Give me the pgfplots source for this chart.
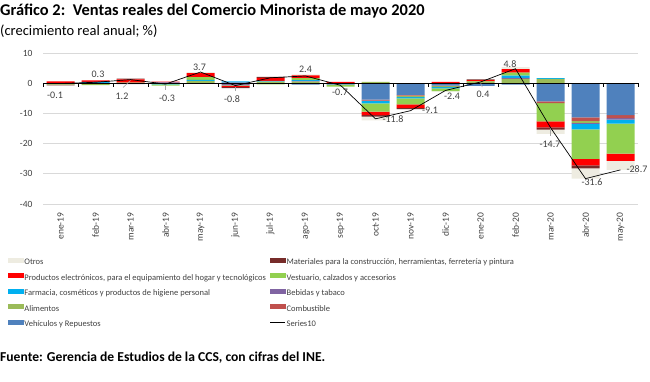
\documentclass[border=0pt]{standalone}
\usepackage{fontspec}
\setmainfont{Carlito}
\usepackage{pgfplots}
\usepackage{pgfplotstable}
\pgfplotsset{compat=1.18}
\definecolor{cV}{HTML}{4F81BD}
\definecolor{cC}{HTML}{C0504D}
\definecolor{cA}{HTML}{9BBB59}
\definecolor{cB}{HTML}{8064A2}
\definecolor{cF}{HTML}{00B0F0}
\definecolor{cVe}{HTML}{92D050}
\definecolor{cE}{HTML}{FF0000}
\definecolor{cM}{HTML}{772C2A}
\definecolor{cO}{HTML}{EEECE1}
\definecolor{txt}{HTML}{404040}
\definecolor{gridc}{HTML}{D9D9D9}
\definecolor{leadc}{HTML}{A6A6A6}

\pgfplotstableread{
x V C A B F Ve E M O
0 0 0 -0.5 0 0 0 0.6 -0.2 0
1 0.1 -0.3 0 0 0.3 -0.3 0.5 0 0
2 0 0 0.2 -0.3 0 0 1.1 0.2 0
3 -0.2 0 0 0.3 -0.2 -0.4 0.2 0 0
4 0 0 0.8 0 0.3 0.9 1.3 0 0.4
5 0.3 -0.3 0 -0.4 0.3 -0.2 -0.3 -0.4 0
6 0 0 0.5 0 0.3 -0.4 1.0 0.3 0
7 -0.5 0 0.5 0.3 0.2 0.7 0.9 0 0.3
8 -0.5 0 0 0 0 -0.6 0.4 0 0
9 -5.4 -0.35 0.4 -0.1 -0.8 -2.8 -1.1 -0.5 -1.3
10 -3.9 -0.2 -0.5 0 -0.4 -2.0 -1.2 -0.4 -0.1
11 -0.8 -0.2 -0.3 0 -0.4 -0.9 0.4 0 -0.2
12 -0.9 0 0.4 0 0 0.2 0.4 0.3 0
13 -0.5 0 1.4 0.4 0.7 1.0 1.2 0 0.6
14 -6.0 -0.6 1.4 0 0.3 -6.0 -2.0 -0.8 -1.4
15 -11.3 -1.2 -0.6 -0.4 -1.8 -9.8 -2.1 -1.0 -3.4
16 -10.6 -1.0 0 -0.5 -1.3 -9.9 -2.4 0 -3.0
}\contrib

\pgfplotstableread{
x y
0 -0.1
1 0.3
2 1.2
3 -0.3
4 3.7
5 -0.8
6 1.8
7 2.4
8 -0.7
9 -11.8
10 -9.1
11 -2.4
12 0.4
13 4.8
14 -14.7
15 -31.6
16 -28.7
}\total

\pgfplotstableread{
x y lab dx dy
0 -0.1 -0.1 -5.5 -11.4
1 0.3 0.3 2.5 8.4
2 1.2 1.2 -8.5 -16.3
3 -0.3 -0.3 1.5 -13.8
4 3.7 3.7 -1 5.1
5 -0.8 -0.8 -3.5 -13.3
7 2.4 2.4 0 7
8 -0.7 -0.7 -0.5 -7.3
9 -11.8 -11.8 17.5 0
10 -9.1 -9.1 19.5 0
11 -2.4 -2.4 6.5 -5.5
12 0.4 0.4 2.5 -11.9
13 4.8 4.8 -5.5 4.8
14 -14.7 -14.7 -0.5 -16.3
15 -31.6 -31.6 6.5 -3.2
16 -28.7 -28.7 16.5 1
}\labels

\pgfplotsset{
  base/.style={at={(43pt,178pt)}, anchor=south west, scale only axis,
    width=595pt, height=151pt, xmin=-0.5, xmax=16.5, ymin=-40, ymax=10,
    enlargelimits=false},
  bars/.style={ybar stacked, bar width=28pt},
  legfont/.style={font=\fontsize{8.5}{10}\selectfont, text=txt},
  leg/.style={legend cell align=left,
    legend style={draw=none, fill=none, inner sep=0pt, outer sep=0pt,
      legfont, row sep=5.5pt,
      nodes={inner sep=1pt, text height=6pt, text depth=2pt},
      anchor=north west}},
}
\newcommand{\sw}[1]{\addlegendimage{legend image code/.code={\fill[#1] (0pt,0.7pt) rectangle (15pt,4.7pt);}}}

\begin{document}
\begin{tikzpicture}[x=1pt,y=1pt]
\useasboundingbox (0,0) rectangle (650,382);
\node[anchor=base west, inner sep=0pt, font=\fontsize{16.4}{18}\selectfont\bfseries] at (0,366.7) {Gráfico 2:\ \ Ventas reales del Comercio Minorista de mayo 2020};
\node[anchor=base west, inner sep=0pt, font=\fontsize{14.5}{18}\selectfont] at (0,346.3) {(crecimiento real anual; \%)};
\node[anchor=base west, inner sep=0pt, font=\fontsize{13.6}{16}\selectfont\bfseries] at (0,20.3) {Fuente: Gerencia de Estudios de la CCS, con cifras del INE.};

% positive parts
\begin{axis}[base, bars, leg,
  legend style={at={(axis description cs:-0.05882,-0.3556)}},
  ytick={-40,-30,...,10}, xtick={0,...,16},
  xticklabels={ene-19,feb-19,mar-19,abr-19,may-19,jun-19,jul-19,ago-19,sep-19,oct-19,nov-19,dic-19,ene-20,feb-20,mar-20,abr-20,may-20},
  ymajorgrids, major grid style={color=gridc, line width=0.8pt},
  axis line style={draw=none}, major tick length=0pt,
  tick label style={font=\fontsize{9.5}{11}\selectfont, text=txt},
  /pgf/number format/assume math mode=true,
  xticklabel style={rotate=90, anchor=east}, xticklabel shift=5pt,
  yticklabel shift=7pt]
\addplot[fill=cV, draw=none, forget plot] table[x=x, y expr={max(\thisrow{V},0)}] {\contrib};
\addplot[fill=cC, draw=none, forget plot] table[x=x, y expr={max(\thisrow{C},0)}] {\contrib};
\addplot[fill=cA, draw=none, forget plot] table[x=x, y expr={max(\thisrow{A},0)}] {\contrib};
\addplot[fill=cB, draw=none, forget plot] table[x=x, y expr={max(\thisrow{B},0)}] {\contrib};
\addplot[fill=cF, draw=none, forget plot] table[x=x, y expr={max(\thisrow{F},0)}] {\contrib};
\addplot[fill=cVe, draw=none, forget plot] table[x=x, y expr={max(\thisrow{Ve},0)}] {\contrib};
\addplot[fill=cE, draw=none, forget plot] table[x=x, y expr={max(\thisrow{E},0)}] {\contrib};
\addplot[fill=cM, draw=none, forget plot] table[x=x, y expr={max(\thisrow{M},0)}] {\contrib};
\addplot[fill=cO, draw=none, forget plot] table[x=x, y expr={max(\thisrow{O},0)}] {\contrib};
\sw{cO}\addlegendentry{Otros}
\sw{cE}\addlegendentry{Productos electrónicos, para el equipamiento del hogar y tecnológicos}
\sw{cF}\addlegendentry{Farmacia, cosméticos y productos de higiene personal}
\sw{cA}\addlegendentry{Alimentos}
\sw{cV}\addlegendentry{Vehículos y Repuestos}
\end{axis}

% negative parts
\begin{axis}[base, bars, hide axis, leg,
  legend style={at={(axis description cs:0.38151,-0.3556)}}]
\addplot[fill=cV, draw=none, forget plot] table[x=x, y expr={min(\thisrow{V},0)}] {\contrib};
\addplot[fill=cC, draw=none, forget plot] table[x=x, y expr={min(\thisrow{C},0)}] {\contrib};
\addplot[fill=cA, draw=none, forget plot] table[x=x, y expr={min(\thisrow{A},0)}] {\contrib};
\addplot[fill=cB, draw=none, forget plot] table[x=x, y expr={min(\thisrow{B},0)}] {\contrib};
\addplot[fill=cF, draw=none, forget plot] table[x=x, y expr={min(\thisrow{F},0)}] {\contrib};
\addplot[fill=cVe, draw=none, forget plot] table[x=x, y expr={min(\thisrow{Ve},0)}] {\contrib};
\addplot[fill=cE, draw=none, forget plot] table[x=x, y expr={min(\thisrow{E},0)}] {\contrib};
\addplot[fill=cM, draw=none, forget plot] table[x=x, y expr={min(\thisrow{M},0)}] {\contrib};
\addplot[fill=cO, draw=none, forget plot] table[x=x, y expr={min(\thisrow{O},0)}] {\contrib};
\sw{cM}\addlegendentry{Materiales para la construcción, herramientas, ferretería y pintura}
\sw{cVe}\addlegendentry{Vestuario, calzados y accesorios}
\sw{cB}\addlegendentry{Bebidas y tabaco}
\sw{cC}\addlegendentry{Combustible}
\addlegendimage{legend image code/.code={\draw[black, line width=0.7pt] (0pt,2.8pt) -- (15pt,2.8pt);}}
\addlegendentry{Series10}
\end{axis}

% total line, labels, zero axis
\begin{axis}[base, hide axis, clip=false]
\draw[black, line width=0.8pt] (axis cs:-0.5,0) -- (axis cs:16.5,0);
\pgfplotsinvokeforeach{-0.5,0.5,...,16.5}{\draw[black, line width=0.8pt] (axis cs:#1,0) -- ++(0pt,-3.5pt);}
% leader lines of moved labels
\draw[leadc, line width=0.6pt] (axis cs:1.79,-1.4) -- (axis cs:2,0.9);
\draw[leadc, line width=0.6pt] (axis cs:3,-0.6) -- (axis cs:3,-2.2);
\draw[leadc, line width=0.6pt] (axis cs:5,-1.2) -- (axis cs:5,-2.5);
\draw[leadc, line width=0.6pt] (axis cs:12,0.2) -- (axis cs:12.05,-1.3);
\draw[leadc, line width=0.6pt] (axis cs:14,-14.9) -- (axis cs:14,-17.4);
\addplot[black, line width=0.7pt, mark=none] table[x=x, y=y] {\total};
\addplot[draw=none, mark=none, point meta=explicit symbolic, nodes near coords,
  visualization depends on={\thisrow{dx} \as \dx},
  visualization depends on={\thisrow{dy} \as \dy},
  nodes near coords style={anchor=center, xshift=\dx, yshift=\dy, inner sep=0pt,
    font=\fontsize{10}{12}\selectfont, text=txt}]
  table[x=x, y=y, meta=lab] {\labels};
\end{axis}
\end{tikzpicture}
\end{document}
